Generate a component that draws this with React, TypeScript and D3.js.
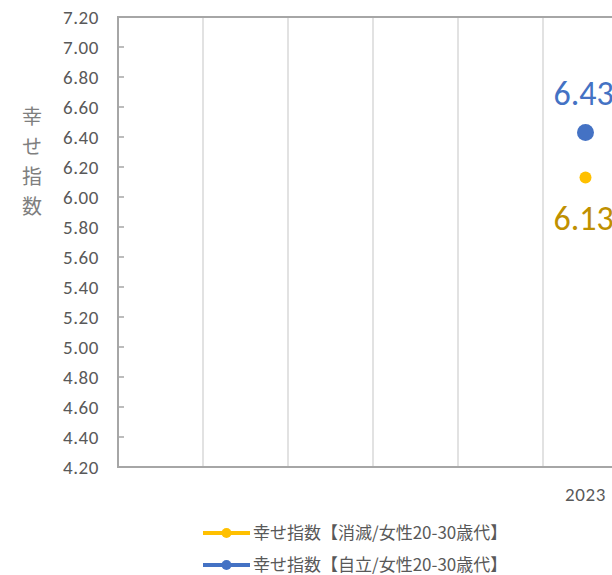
import React from "react";
import * as d3 from "d3";

const categories = ["c1", "c2", "c3", "c4", "c5", "2023"];
const categoryLabels = ["", "", "", "", "", "2023"];
const seriesNames = ["幸せ指数【消滅/女性20-30歳代】", "幸せ指数【自立/女性20-30歳代】"];
const shoumetsu = [null, null, null, null, null, 6.13];
const jiritsu = [null, null, null, null, null, 6.43];
const yTicks = [4.2, 4.4, 4.6, 4.8, 5.0, 5.2, 5.4, 5.6, 5.8, 6.0, 6.2, 6.4, 6.6, 6.8, 7.0, 7.2];
const yTitle = "幸せ指数";

const W = 612, H = 575;
const left = 118, top = 17, bottom = 467, right = 628;

export default function App() {
  const x = d3.scaleBand<string>().domain(categories).range([left, right]);
  const y = d3.scaleLinear().domain([4.2, 7.2]).range([bottom, top]);
  const font = "Carlito, 'Liberation Sans', 'Noto Sans', sans-serif";
  const jfont = "'Noto Sans CJK JP', sans-serif";
  const series = [
    { name: seriesNames[0], values: shoumetsu, color: "#FFC000", labelColor: "#BF9000", r: 6, above: false },
    { name: seriesNames[1], values: jiritsu, color: "#4472C4", labelColor: "#4472C4", r: 8.5, above: true },
  ];
  return (
    <svg width={W} height={H} style={{ position: "absolute", left: 0, top: 0 }}>
      <rect width={W} height={H} fill="#fff" />
      {categories.slice(1).map((c) => (
        <line key={c} x1={x(c)!} x2={x(c)!} y1={top} y2={bottom} stroke="#d9d9d9" strokeWidth={1.5} />
      ))}
      {yTicks.map((t) => (
        <g key={t}>
          <line x1={left} x2={left + 6} y1={y(t)} y2={y(t)} stroke="#a6a6a6" strokeWidth={1.5} />
          <text x={99} y={y(t)} dy="0.35em" textAnchor="end" fontFamily={font} fontSize={19} letterSpacing={0.6} fill="#595959">
            {t.toFixed(2)}
          </text>
        </g>
      ))}
      <path d={`M${right},${top}H${left}V${bottom}H${right}`} fill="none" stroke="#a6a6a6" strokeWidth={2} />
      {categories.map((c, i) => (
        <text key={c} x={x(c)! + x.bandwidth() / 2} y={501} textAnchor="middle" fontFamily={font} fontSize={19} letterSpacing={0.6} fill="#595959">
          {categoryLabels[i]}
        </text>
      ))}
      {Array.from(yTitle).map((ch, i) => (
        <text key={i} x={32} y={117 + i * 30} dy="0.35em" textAnchor="middle" fontFamily={jfont} fontSize={20} fill="#7f7f7f">
          {ch}
        </text>
      ))}
      {series.map((s) =>
        s.values.map((v, i) =>
          v == null ? null : (
            <g key={s.name + i}>
              <circle cx={x(categories[i])! + x.bandwidth() / 2} cy={y(v)} r={s.r} fill={s.color} />
              <text
                x={x(categories[i])! + x.bandwidth() / 2 - 32}
                y={s.above ? y(v) - 27.5 : y(v) + 52.5}
                fontFamily={font}
                fontSize={34}
                fill={s.labelColor}
              >
                {v.toFixed(2)}
              </text>
            </g>
          )
        )
      )}
      {series.map((s, i) => (
        <g key={s.name} transform={`translate(0,${533 + i * 32})`}>
          <line x1={203} x2={250} y1={0} y2={0} stroke={s.color} strokeWidth={4} />
          <circle cx={226.5} cy={0} r={5} fill={s.color} />
          <text x={253} y={0} dy="0.35em" fontFamily={jfont} fontSize={17} fill="#595959">
            {s.name}
          </text>
        </g>
      ))}
    </svg>
  );
}
